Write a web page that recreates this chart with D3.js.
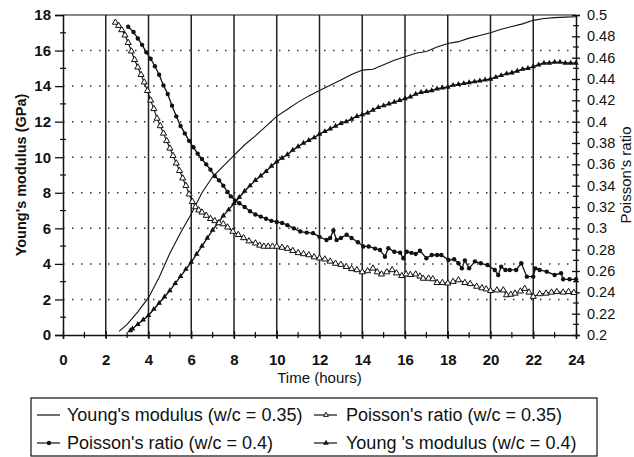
<!DOCTYPE html>
<html>
<head>
<meta charset="utf-8">
<script src="https://cdn.jsdelivr.net/npm/d3@7"></script>
<style>
  body { margin: 0; background: #fff; }
  svg { display: block; font-family: "Liberation Sans", Arial, sans-serif; }
</style>
</head>
<body>
<div id="chart-container"></div>
<script>
// Young's modulus, w/c = 0.35 (plain line, left axis)
const youngA_t = [2.62, 3.0, 3.5, 4.0, 4.5, 5.0, 5.5, 6.0, 6.5, 7.0, 7.5, 8.0, 8.5, 9.0, 9.5, 10.0, 10.5, 11.0, 11.5, 12.0, 12.5, 13.0, 13.5, 14.0, 14.5, 15.0, 15.5, 16.0, 16.5, 17.0, 17.5, 18.0, 18.5, 19.0, 19.5, 20.0, 20.5, 21.0, 21.5, 22.0, 22.5, 23.0, 23.5, 24.0];
const youngA_v = [0.2, 0.6, 1.3, 2.1, 3.25, 4.6, 5.75, 6.8, 8.0, 8.9, 9.5, 10.1, 10.7, 11.2, 11.75, 12.3, 12.7, 13.1, 13.45, 13.75, 14.05, 14.35, 14.65, 14.9, 14.95, 15.2, 15.45, 15.65, 15.85, 15.95, 16.2, 16.4, 16.5, 16.7, 16.85, 17.0, 17.2, 17.35, 17.5, 17.7, 17.8, 17.85, 17.88, 17.9];

// Young's modulus, w/c = 0.4 (filled triangles, left axis)
const youngB_t = [3.15, 3.25, 3.5, 3.75, 4.0, 4.25, 4.5, 4.75, 5.0, 5.25, 5.5, 5.75, 6.0, 6.25, 6.5, 6.75, 7.0, 7.25, 7.5, 7.75, 8.0, 8.25, 8.5, 8.75, 9.0, 9.25, 9.5, 9.75, 10.0, 10.25, 10.5, 10.75, 11.0, 11.25, 11.5, 11.75, 12.0, 12.25, 12.5, 12.75, 13.0, 13.25, 13.5, 13.75, 14.0, 14.25, 14.5, 14.75, 15.0, 15.25, 15.5, 15.75, 16.0, 16.25, 16.5, 16.75, 17.0, 17.25, 17.5, 17.75, 18.0, 18.25, 18.5, 18.75, 19.0, 19.25, 19.5, 19.75, 20.0, 20.25, 20.5, 20.75, 21.0, 21.25, 21.5, 21.75, 22.0, 22.25, 22.5, 22.75, 23.0, 23.25, 23.5, 23.75, 24.0];
const youngB_v = [0.25, 0.35, 0.6, 0.85, 1.1, 1.45, 1.8, 2.15, 2.5, 2.9, 3.3, 3.7, 4.1, 4.55, 5.0, 5.45, 5.9, 6.3, 6.7, 7.05, 7.4, 7.75, 8.1, 8.4, 8.7, 8.95, 9.2, 9.5, 9.75, 9.95, 10.15, 10.4, 10.6, 10.8, 10.95, 11.1, 11.3, 11.45, 11.6, 11.75, 11.9, 12.0, 12.15, 12.3, 12.4, 12.5, 12.65, 12.8, 12.9, 13.0, 13.1, 13.2, 13.3, 13.4, 13.55, 13.65, 13.7, 13.75, 13.85, 13.9, 13.95, 14.05, 14.1, 14.15, 14.2, 14.25, 14.3, 14.35, 14.4, 14.5, 14.6, 14.7, 14.75, 14.85, 14.95, 15.0, 15.1, 15.2, 15.3, 15.3, 15.35, 15.35, 15.3, 15.3, 15.3];

// Poisson's ratio, w/c = 0.35 (open triangles, right axis)
const poissonA_t = [2.45, 2.6, 2.75, 2.9, 3.05, 3.2, 3.35, 3.5, 3.65, 3.8, 3.95, 4.1, 4.25, 4.4, 4.55, 4.7, 4.85, 5.0, 5.15, 5.3, 5.45, 5.6, 5.75, 5.9, 6.05, 6.2, 6.35, 6.5, 6.7, 6.9, 7.1, 7.3, 7.5, 7.7, 7.95, 8.2, 8.45, 8.7, 9.0, 9.2, 9.4, 9.6, 9.8, 10.0, 10.25, 10.5, 10.75, 11.0, 11.25, 11.5, 11.75, 12.0, 12.25, 12.5, 12.75, 13.0, 13.25, 13.5, 13.75, 14.0, 14.25, 14.5, 14.7, 14.9, 15.15, 15.4, 15.6, 15.85, 16.05, 16.25, 16.5, 16.7, 16.85, 17.1, 17.3, 17.5, 17.75, 18.0, 18.25, 18.5, 18.8, 19.05, 19.35, 19.6, 19.8, 20.0, 20.3, 20.6, 20.75, 20.95, 21.15, 21.4, 21.6, 21.8, 22.0, 22.3, 22.6, 22.85, 23.1, 23.4, 23.65, 23.9];
const poissonA_v = [0.493, 0.490, 0.486, 0.481, 0.474, 0.466, 0.458, 0.451, 0.444, 0.437, 0.429, 0.420, 0.412, 0.403, 0.396, 0.389, 0.382, 0.375, 0.368, 0.361, 0.354, 0.347, 0.340, 0.332, 0.325, 0.320, 0.317, 0.315, 0.312, 0.309, 0.307, 0.305, 0.304, 0.301, 0.297, 0.294, 0.291, 0.288, 0.286, 0.284, 0.283, 0.283, 0.283, 0.283, 0.282, 0.281, 0.279, 0.277, 0.276, 0.275, 0.273, 0.272, 0.271, 0.269, 0.267, 0.266, 0.264, 0.262, 0.261, 0.259, 0.260, 0.2625, 0.259, 0.257, 0.259, 0.261, 0.258, 0.2555, 0.257, 0.2565, 0.257, 0.255, 0.253, 0.253, 0.2525, 0.249, 0.249, 0.2485, 0.250, 0.2515, 0.249, 0.248, 0.2455, 0.244, 0.243, 0.2415, 0.242, 0.242, 0.2375, 0.238, 0.239, 0.241, 0.2435, 0.240, 0.236, 0.2385, 0.239, 0.240, 0.2405, 0.240, 0.2405, 0.2397];

// Poisson's ratio, w/c = 0.4 (filled circles, right axis)
const poissonB_t = [3.05, 3.3, 3.5, 3.7, 3.9, 4.1, 4.3, 4.5, 4.7, 4.9, 5.1, 5.3, 5.5, 5.7, 5.9, 6.1, 6.3, 6.5, 6.7, 6.9, 7.1, 7.3, 7.5, 7.7, 7.85, 8.05, 8.25, 8.5, 8.75, 9.0, 9.25, 9.5, 9.75, 10.0, 10.25, 10.5, 10.8, 11.1, 11.4, 11.7, 12.0, 12.33, 12.5, 12.65, 12.8, 13.0, 13.27, 13.5, 13.8, 14.05, 14.3, 14.6, 14.83, 15.06, 15.22, 15.5, 15.77, 15.92, 16.08, 16.3, 16.5, 16.7, 17.0, 17.25, 17.5, 17.7, 18.03, 18.3, 18.5, 18.66, 18.8, 19.0, 19.27, 19.55, 19.86, 20.2, 20.36, 20.5, 20.7, 20.9, 21.2, 21.44, 21.7, 22.0, 22.1, 22.3, 22.63, 23.0, 23.3, 23.4, 23.7, 24.0];
const poissonB_v = [0.489, 0.484, 0.478, 0.472, 0.465, 0.459, 0.452, 0.444, 0.434, 0.426, 0.415, 0.405, 0.396, 0.389, 0.382, 0.376, 0.370, 0.365, 0.360, 0.355, 0.349, 0.345, 0.340, 0.334, 0.330, 0.326, 0.3235, 0.320, 0.316, 0.313, 0.311, 0.309, 0.307, 0.306, 0.305, 0.303, 0.300, 0.297, 0.296, 0.2955, 0.292, 0.289, 0.291, 0.298, 0.289, 0.291, 0.294, 0.291, 0.287, 0.283, 0.283, 0.281, 0.2797, 0.2734, 0.2813, 0.278, 0.2772, 0.272, 0.278, 0.277, 0.276, 0.279, 0.272, 0.275, 0.275, 0.275, 0.2703, 0.271, 0.2672, 0.2625, 0.270, 0.2625, 0.269, 0.2672, 0.2656, 0.261, 0.2563, 0.264, 0.261, 0.261, 0.261, 0.2672, 0.2547, 0.2547, 0.2625, 0.261, 0.2594, 0.2563, 0.258, 0.2522, 0.2522, 0.2522];

const xTicks = [0, 2, 4, 6, 8, 10, 12, 14, 16, 18, 20, 22, 24];
const leftTicks = [0, 2, 4, 6, 8, 10, 12, 14, 16, 18];
const rightTicks = [0.2, 0.22, 0.24, 0.26, 0.28, 0.3, 0.32, 0.34, 0.36, 0.38, 0.4, 0.42, 0.44, 0.46, 0.48, 0.5];

const legendLabels = ["Young's modulus (w/c = 0.35)", "Poisson's ratio (w/c = 0.35)", "Poisson's ratio (w/c = 0.4)", "Young 's modulus (w/c = 0.4)"];

const W = 634, H = 457;
const plot = { left: 63, right: 576, top: 15, bottom: 335 };
const ink = "#111";

const svg = d3.select("#chart-container").append("svg")
  .attr("width", W).attr("height", H);

const x = d3.scaleLinear().domain([0, 24]).range([plot.left, plot.right]);
const yL = d3.scaleLinear().domain([0, 18]).range([plot.bottom, plot.top]);
const yR = d3.scaleLinear().domain([0.2, 0.5]).range([plot.bottom, plot.top]);

// dotted horizontal grid
svg.append("g").selectAll("line")
  .data(leftTicks.filter(d => d > 0 && d < 18))
  .join("line")
  .attr("x1", plot.left).attr("x2", plot.right)
  .attr("y1", d => yL(d)).attr("y2", d => yL(d))
  .attr("stroke", "#333").attr("stroke-width", 1.5)
  .attr("stroke-dasharray", "1.5,7.5");

// solid vertical grid
svg.append("g").selectAll("line")
  .data(xTicks.filter(d => d > 0 && d < 24))
  .join("line")
  .attr("x1", d => x(d)).attr("x2", d => x(d))
  .attr("y1", plot.top).attr("y2", plot.bottom + 3)
  .attr("stroke", "#222").attr("stroke-width", 1.5);

// frame
svg.append("line").attr("x1", plot.left).attr("x2", plot.right).attr("y1", plot.top).attr("y2", plot.top)
  .attr("stroke", ink).attr("stroke-width", 1.2);

// axes
const xAxis = d3.axisBottom(x).tickValues(xTicks).tickSize(4).tickPadding(15);
const gx = svg.append("g").attr("transform", `translate(0,${plot.bottom})`).call(xAxis);
gx.selectAll("text").style("font-size", "15px").style("font-weight", "bold");

const gyl = svg.append("g").attr("transform", `translate(${plot.left},0)`)
  .call(d3.axisLeft(yL).tickValues(leftTicks).tickSize(8).tickPadding(4));
gyl.selectAll("text").style("font-size", "15px").style("font-weight", "bold");

const gyr = svg.append("g").attr("transform", `translate(${plot.right},0)`)
  .call(d3.axisRight(yR).tickValues(rightTicks).tickSize(4).tickPadding(7).tickFormat(d3.format("")));
gyr.selectAll("text").style("font-size", "14.5px");

[gx, gyl, gyr].forEach(g => {
  g.select(".domain").attr("stroke", ink).attr("stroke-width", 1.5);
  g.selectAll(".tick line").attr("stroke", ink).attr("stroke-width", 1.3);
  g.selectAll("text").attr("fill", ink).style("font-family", "'Liberation Sans', Arial, sans-serif");
});
gyr.selectAll(".tick line").attr("x1", -4);
gx.selectAll(".tick line").attr("y1", -4);

// minor ticks
const minor = svg.append("g").attr("stroke", ink).attr("stroke-width", 1.2);
d3.range(1, 24, 2).forEach(h => {
  minor.append("line").attr("x1", x(h)).attr("x2", x(h)).attr("y1", plot.bottom - 3).attr("y2", plot.bottom + 3);
});
d3.range(1, 18, 2).forEach(v => {
  minor.append("line").attr("x1", plot.left - 3).attr("x2", plot.left + 3).attr("y1", yL(v)).attr("y2", yL(v));
});
d3.range(0.21, 0.5, 0.02).forEach(v => {
  minor.append("line").attr("x1", plot.right - 3).attr("x2", plot.right + 3).attr("y1", yR(v)).attr("y2", yR(v));
});

// axis titles
svg.append("text")
  .attr("transform", `translate(26,${(plot.top + plot.bottom) / 2}) rotate(-90)`)
  .attr("text-anchor", "middle").attr("fill", ink)
  .style("font-size", "14.5px").style("font-weight", "bold")
  .text("Young's modulus (GPa)");

svg.append("text")
  .attr("transform", `translate(631,${(plot.top + plot.bottom) / 2}) rotate(-90)`)
  .attr("text-anchor", "middle").attr("fill", ink)
  .style("font-size", "15px")
  .text("Poisson's ratio");

svg.append("text")
  .attr("x", (plot.left + plot.right) / 2).attr("y", 383)
  .attr("text-anchor", "middle").attr("fill", ink)
  .style("font-size", "15px")
  .text("Time (hours)");

// series
const toPts = (ts, vs) => ts.map((t, i) => [t, vs[i]]);
const lineL = d3.line().x(d => x(d[0])).y(d => yL(d[1]));
const lineR = d3.line().x(d => x(d[0])).y(d => yR(d[1]));

const youngA = toPts(youngA_t, youngA_v);
const youngB = toPts(youngB_t, youngB_v);
const poissonA = toPts(poissonA_t, poissonA_v);
const poissonB = toPts(poissonB_t, poissonB_v);

svg.append("path").datum(youngA).attr("d", lineL)
  .attr("fill", "none").attr("stroke", ink).attr("stroke-width", 1.1);

svg.append("path").datum(youngB).attr("d", lineL)
  .attr("fill", "none").attr("stroke", ink).attr("stroke-width", 1.4);
svg.append("g").selectAll("path").data(youngB).join("path")
  .attr("transform", d => `translate(${x(d[0])},${yL(d[1])})`)
  .attr("d", d3.symbol(d3.symbolTriangle).size(14))
  .attr("fill", ink);

svg.append("path").datum(poissonA).attr("d", lineR)
  .attr("fill", "none").attr("stroke", ink).attr("stroke-width", 1.1);
svg.append("g").selectAll("path").data(poissonA).join("path")
  .attr("transform", d => `translate(${x(d[0])},${yR(d[1])})`)
  .attr("d", d3.symbol(d3.symbolTriangle).size(16))
  .attr("fill", "#fff").attr("stroke", ink).attr("stroke-width", 1);

svg.append("path").datum(poissonB).attr("d", lineR)
  .attr("fill", "none").attr("stroke", ink).attr("stroke-width", 1.3);
svg.append("g").selectAll("circle").data(poissonB).join("circle")
  .attr("cx", d => x(d[0])).attr("cy", d => yR(d[1])).attr("r", 2.2)
  .attr("fill", ink);

// legend
const lg = svg.append("g");
lg.append("rect").attr("x", 31).attr("y", 398).attr("width", 566).attr("height", 58)
  .attr("fill", "none").attr("stroke", ink).attr("stroke-width", 1.2);

const items = [
  { x: 37, y: 415, tx: 67, ty: 421, label: legendLabels[0], mark: null },
  { x: 314, y: 415, tx: 346, ty: 421, label: legendLabels[1], mark: "openTri" },
  { x: 37, y: 443, tx: 67, ty: 449, label: legendLabels[2], mark: "dot" },
  { x: 314, y: 443, tx: 346, ty: 449, label: legendLabels[3], mark: "tri" }
];
items.forEach(it => {
  lg.append("line").attr("x1", it.x).attr("x2", it.x + 23).attr("y1", it.y).attr("y2", it.y)
    .attr("stroke", ink).attr("stroke-width", 1.2);
  const cx = it.x + 12;
  if (it.mark === "openTri") {
    lg.append("path").attr("transform", `translate(${cx},${it.y})`)
      .attr("d", d3.symbol(d3.symbolTriangle).size(10))
      .attr("fill", "#fff").attr("stroke", ink).attr("stroke-width", 1);
  } else if (it.mark === "dot") {
    lg.append("circle").attr("cx", cx).attr("cy", it.y).attr("r", 2.2).attr("fill", ink);
  } else if (it.mark === "tri") {
    lg.append("path").attr("transform", `translate(${cx},${it.y})`)
      .attr("d", d3.symbol(d3.symbolTriangle).size(14)).attr("fill", ink);
  }
  lg.append("text").attr("x", it.tx).attr("y", it.ty).attr("fill", ink)
    .style("font-size", "18px").text(it.label);
});
</script>
</body>
</html>
